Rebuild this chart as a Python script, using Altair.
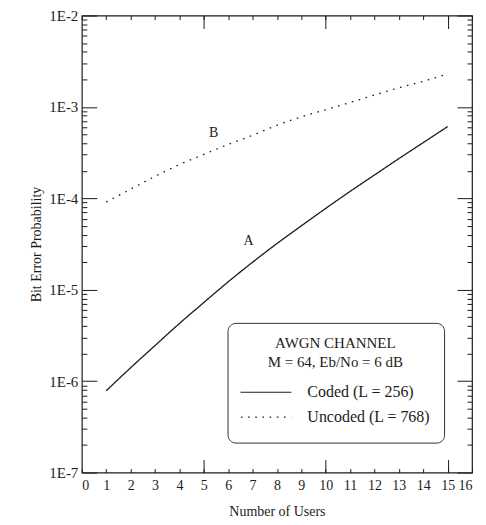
import altair as alt
import pandas as pd

# ---- data ----
users = list(range(1, 16))
coded_ber = [7.85e-7, 1.40e-6, 2.45e-6, 4.27e-6, 7.24e-6, 1.22e-5, 2.0e-5, 3.2e-5,
             5.0e-5, 7.76e-5, 1.19e-4, 1.80e-4, 2.72e-4, 4.07e-4, 6.10e-4]
uncoded_ber = [9.1e-5, 1.26e-4, 1.74e-4, 2.34e-4, 3.02e-4, 3.89e-4, 4.9e-4, 6.3e-4,
               7.8e-4, 9.3e-4, 1.12e-3, 1.35e-3, 1.62e-3, 1.91e-3, 2.29e-3]
series_names = ["Coded (L = 256)", "Uncoded (L = 768)"]
curve_letters = ["A", "B"]
letter_at_user = [7, 5]

x_ticks = list(range(0, 17))
x_major = [5, 10, 15]
y_major = [1e-7, 1e-6, 1e-5, 1e-4, 1e-3, 1e-2]
y_minor = [k * 10.0 ** e for e in range(-7, -2) for k in range(2, 10)]

W, H = 391, 458
FONT = "Liberation Serif"
INK = "#1c1c1c"

df = pd.DataFrame({
    "users": users * 2,
    "ber": coded_ber + uncoded_ber,
    "series": [series_names[0]] * len(users) + [series_names[1]] * len(users),
})

lab_df = pd.DataFrame({
    "users": letter_at_user,
    "ber": [coded_ber[users.index(letter_at_user[0])], uncoded_ber[users.index(letter_at_user[1])]],
    "letter": curve_letters,
})

xscale = alt.Scale(domain=[0, 16], nice=False, zero=False)
yscale = alt.Scale(type="log", domain=[1e-7, 1e-2], nice=False)

lines = alt.Chart(df).mark_line(color=INK, strokeWidth=1.3, interpolate="monotone").encode(
    x=alt.X("users:Q", scale=xscale,
            axis=alt.Axis(orient="bottom", values=x_ticks, ticks=False, domain=False, grid=False,
                          labelFont=FONT, labelFontSize=14, labelColor=INK, labelPadding=6,
                          title="Number of Users", titleFont=FONT, titleFontSize=14,
                          titleFontWeight="normal", titleColor=INK, titlePadding=12)),
    y=alt.Y("ber:Q", scale=yscale,
            axis=alt.Axis(orient="left", values=y_major, ticks=False, domain=False, grid=False,
                          labelExpr="'1E-' + round(-log(datum.value)/LN10)",
                          labelFont=FONT, labelFontSize=15, labelColor=INK, labelPadding=4,
                          title="Bit Error Probability", titleFont=FONT, titleFontSize=14,
                          titleFontWeight="normal", titleColor=INK, titlePadding=5)),
    strokeDash=alt.StrokeDash(
        "series:N",
        scale=alt.Scale(domain=series_names, range=[[1, 0], [1.6, 5.6]]),
        legend=alt.Legend(
            orient="none", legendX=146, legendY=308,
            title=["AWGN CHANNEL", "M = 64, Eb/No = 6 dB"],
            titleFont=FONT, titleFontSize=15, titleFontWeight="normal", titleColor=INK,
            titleAnchor="middle", titleAlign="center", titleLineHeight=19, titlePadding=10,
            labelFont=FONT, labelFontSize=16, labelColor=INK, labelOffset=15, labelLimit=300,
            symbolType="stroke", symbolSize=4225, symbolStrokeWidth=1.2, symbolOffset=-15,
            symbolStrokeColor=INK, clipHeight=25, rowPadding=0, padding=13,
            fillColor="white", strokeColor="#333", cornerRadius=8,
        ),
    ),
)


def tick_layer(x_orient, x_vals, x_size, y_orient, y_vals, y_size):
    return alt.Chart(df).mark_point(opacity=0).encode(
        x=alt.X("users:Q", scale=xscale,
                axis=alt.Axis(orient=x_orient, offset=-H, values=x_vals, tickSize=x_size,
                              labels=False, domain=False, grid=False, title=None,
                              tickColor=INK, tickWidth=1)),
        y=alt.Y("ber:Q", scale=yscale,
                axis=alt.Axis(orient=y_orient, offset=-W, values=y_vals, tickSize=y_size,
                              labels=False, domain=False, grid=False, title=None,
                              tickColor=INK, tickWidth=1)),
    )


ticks_in_minor = tick_layer("top", x_ticks, 4, "right", y_minor, 5)
ticks_in_major = tick_layer("top", x_major, 13, "right", y_major, 15)
ticks_out_minor = tick_layer("bottom", x_ticks, 4, "left", y_minor, 5)
ticks_out_major = tick_layer("bottom", x_major, 13, "left", y_major, 15)


def letter_layer(letter, dx, dy):
    return alt.Chart(lab_df).transform_filter(alt.datum.letter == letter).mark_text(
        font=FONT, fontSize=14, color=INK, dx=dx, dy=dy
    ).encode(
        x=alt.X("users:Q", scale=xscale, axis=None),
        y=alt.Y("ber:Q", scale=yscale, axis=None),
        text="letter:N",
    )


label_a = letter_layer("A", -4, -21)
label_b = letter_layer("B", 10, -22)

chart = alt.layer(
    ticks_in_minor, ticks_in_major, ticks_out_minor, ticks_out_major,
    lines, label_a, label_b,
).resolve_axis(x="independent", y="independent").properties(
    width=W, height=H,
    padding={"left": 21, "top": 0, "right": 5, "bottom": 0},
    background="white",
).configure_view(stroke=INK, strokeWidth=1.2)

chart.save("out.html", embed_options={"renderer": "svg", "actions": False})
